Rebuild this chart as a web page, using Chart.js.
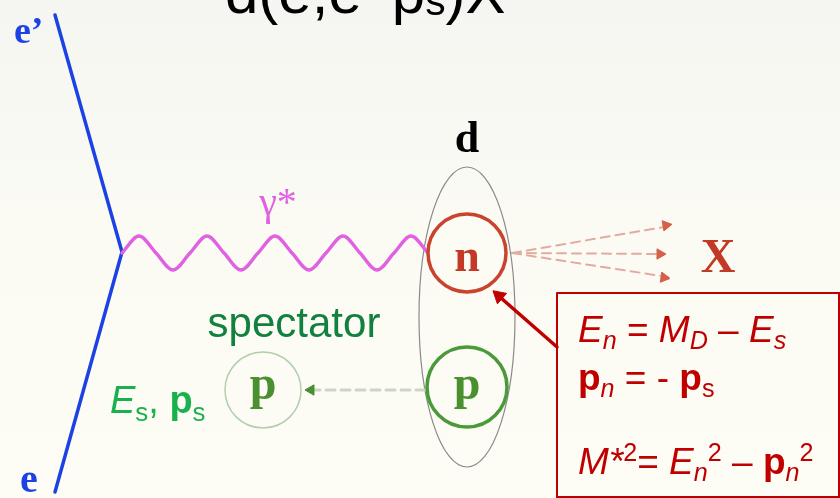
<!DOCTYPE html>
<html>
<head>
<meta charset="utf-8">
<script src="https://cdn.jsdelivr.net/npm/chart.js@4.4.0/dist/chart.umd.min.js"></script>
<style>
    html, body { margin: 0; padding: 0; background: #fbfbf4; }
    #wrap { width: 840px; height: 498px; }
</style>
</head>
<body>
<div id="wrap"><canvas id="myChart" width="840" height="498"></canvas></div>
<script>
// diagram values, picture units (x right, y down)
const electronX = [55, 122, 55];
const electronY = [15, 252, 492];

// virtual photon: crossings, crests and troughs
const photonX = [122, 139, 156, 173, 190, 207, 224, 241, 258, 275, 292, 309, 326, 343, 360, 377, 394, 411, 428];
const photonY = [253, 236, 253, 270, 253, 236, 253, 270, 253, 236, 253, 270, 253, 236, 253, 270, 253, 236, 253];

// deuteron bag: centre and half-axes
const deuteronX = 467, deuteronY = 317, deuteronRx = 48, deuteronRy = 150;

// nucleons: neutron, bound proton, spectator proton
const nucleonX = [467, 467, 263];
const nucleonY = [253, 387, 390];
const nucleonR = [39, 40, 38];

// hadronic final state X (three jets)
const jetFromX = 512, jetFromY = 253;
const jetTipX = [670, 664, 668];
const jetTipY = [226, 254, 277];

// spectator recoil line
const recoilX = [425, 312];
const recoilY = [390, 390];

// formula box and its pointer
const boxX = [557, 839, 839, 557, 557];
const boxY = [293, 293, 497, 497, 293];
const pointerX = [557, 501];
const pointerY = [347, 298];

const pts = (xs, ys) => xs.map((x, i) => ({ x: x, y: ys[i] }));
const bg = '#fcfcf5';

// rotation (deg) for a triangle point so it faces along a segment
function heading(x0, y0, x1, y1) {
    return Math.atan2(x1 - x0, -(y1 - y0)) * 180 / Math.PI;
}

function lineSet(data, color, width, dash, order) {
    return {
        data: data, showLine: true, pointRadius: 0, borderColor: color,
        borderWidth: width, borderDash: dash || [], fill: false, clip: false,
        order: order, borderCapStyle: 'round'
    };
}

function circleSet(i, color, width, order) {
    return {
        data: [{ x: nucleonX[i], y: nucleonY[i] }], pointRadius: nucleonR[i],
        pointStyle: 'circle', pointBorderColor: color, pointBorderWidth: width,
        pointBackgroundColor: bg, clip: false, order: order
    };
}

function arrowHead(x, y, rot, color, r, order) {
    return {
        data: [{ x: x, y: y }], pointStyle: 'triangle', pointRadius: r, rotation: rot,
        pointBackgroundColor: color, pointBorderColor: color, pointBorderWidth: 1,
        clip: false, order: order
    };
}

const datasets = [];
datasets.push(lineSet(pts(electronX, electronY), '#1c42e4', 3.5, null, 10));
datasets.push(Object.assign(lineSet(pts(photonX, photonY), '#e062e2', 3.5, null, 9),
    { cubicInterpolationMode: 'monotone' }));
jetTipX.forEach((tx, i) => {
    datasets.push(lineSet([{ x: jetFromX, y: jetFromY }, { x: tx, y: jetTipY[i] }], '#e3aba0', 2, [9, 6], 8));
    datasets.push(arrowHead(tx - 4, jetTipY[i] + (jetTipY[i] - jetFromY) / 40, heading(jetFromX, jetFromY, tx, jetTipY[i]), '#d4604c', 6, 3));
});
datasets.push(lineSet(pts(recoilX, recoilY), '#cbd6c3', 3, [9, 6], 8));
datasets.push(arrowHead(recoilX[1] - 1, recoilY[1], -90, '#4a8f38', 6, 3));
datasets.push(circleSet(0, '#c9442f', 3.5, 5));
datasets.push(circleSet(1, '#4a9a3a', 3.5, 5));
datasets.push(circleSet(2, '#b3ceab', 1.5, 5));
datasets.push(lineSet(pts(boxX, boxY), '#c00000', 2, null, 6));
datasets.push(lineSet(pts(pointerX, pointerY), '#c00000', 3.5, null, 4));
datasets.push(arrowHead(pointerX[1] - 2, pointerY[1] - 2, heading(pointerX[0], pointerY[0], pointerX[1], pointerY[1]), '#c00000', 8, 2));

const backgroundPlugin = {
    id: 'paper',
    beforeDraw(chart) {
        const c = chart.ctx;
        const g = c.createLinearGradient(0, 0, 0, chart.height);
        g.addColorStop(0, '#f5f6f1');
        g.addColorStop(0.45, '#fbfbf4');
        g.addColorStop(1, '#fdfdf6');
        c.save();
        c.fillStyle = g;
        c.fillRect(0, 0, chart.width, chart.height);
        c.restore();
    }
};

const deuteronPlugin = {
    id: 'deuteron',
    beforeDatasetsDraw(chart) {
        const xs = chart.scales.x, ys = chart.scales.y, c = chart.ctx;
        const cx = xs.getPixelForValue(deuteronX), cy = ys.getPixelForValue(deuteronY);
        const rx = Math.abs(xs.getPixelForValue(deuteronX + deuteronRx) - cx);
        const ry = Math.abs(ys.getPixelForValue(deuteronY + deuteronRy) - cy);
        c.save();
        c.strokeStyle = '#8a8a88';
        c.lineWidth = 1.2;
        c.beginPath();
        c.ellipse(cx, cy, rx, ry, 0, 0, Math.PI * 2);
        c.stroke();
        c.restore();
    }
};

function drawRich(c, x, y, parts, size, family, color) {
    let cx = x;
    c.fillStyle = color;
    c.textAlign = 'left';
    c.textBaseline = 'alphabetic';
    parts.forEach(p => {
        const s = (p.sub || p.sup || p.small) ? size * 0.68 : size;
        const dy = p.sub ? size * 0.2 : p.sup ? -size * 0.36 : p.small ? size * 0.04 : 0;
        c.font = (p.i ? 'italic ' : '') + (p.b ? 'bold ' : '') + s + 'px ' + family;
        c.fillText(p.t, cx, y + dy);
        cx += c.measureText(p.t).width;
    });
}

const labelPlugin = {
    id: 'labels',
    afterDatasetsDraw(chart) {
        const xs = chart.scales.x, ys = chart.scales.y, c = chart.ctx;
        const px = v => xs.getPixelForValue(v), py = v => ys.getPixelForValue(v);
        const serif = '"Liberation Serif", "Times New Roman", serif';
        const sans = '"Liberation Sans", Arial, sans-serif';
        c.save();

        // title, cut by the top edge
        drawRich(c, px(225), py(13), [{ t: 'd(e,e\u2019 p' }, { t: 's', small: true }, { t: ')X' }], 60, sans, '#000000');

        drawRich(c, px(14), py(43), [{ t: 'e\u2019', b: true }], 38, serif, '#1c42e4');
        drawRich(c, px(20), py(492), [{ t: 'e', b: true }], 40, serif, '#1c42e4');

        c.textAlign = 'center';
        c.fillStyle = '#e062e2';
        c.font = '40px ' + serif;
        c.fillText('\u03b3*', px(278), py(215));

        c.fillStyle = '#000000';
        c.font = 'bold 44px ' + serif;
        c.fillText('d', px(467), py(152));

        c.fillStyle = '#c23a26';
        c.font = 'bold 46px ' + serif;
        c.fillText('n', px(nucleonX[0]), py(271));
        c.font = 'bold 48px ' + serif;
        c.fillText('X', px(718), py(272));

        c.fillStyle = '#4a8f30';
        c.font = 'bold 48px ' + serif;
        c.fillText('p', px(nucleonX[1]), py(399));
        c.fillText('p', px(nucleonX[2]), py(399));

        c.fillStyle = '#12803f';
        c.font = '42px ' + sans;
        c.fillText('spectator', px(294), py(337));

        drawRich(c, px(110), py(413), [{ t: 'E', i: true }, { t: 's', sub: true }, { t: ', ' },
            { t: 'p', b: true }, { t: 's', sub: true }], 38, sans, '#19b04e');

        const red = '#c00000';
        drawRich(c, px(578), py(342), [{ t: 'E', i: true }, { t: 'n', i: true, sub: true }, { t: ' = ' },
            { t: 'M', i: true }, { t: 'D', i: true, sub: true }, { t: ' \u2013 ' },
            { t: 'E', i: true }, { t: 's', i: true, sub: true }], 37, sans, red);
        drawRich(c, px(578), py(390), [{ t: 'p', b: true }, { t: 'n', i: true, sub: true }, { t: ' = - ' },
            { t: 'p', b: true }, { t: 's', sub: true }], 37, sans, red);
        drawRich(c, px(578), py(474), [{ t: 'M*', i: true }, { t: '2', sup: true }, { t: '= ' },
            { t: 'E', i: true }, { t: 'n', i: true, sub: true }, { t: '2', sup: true }, { t: ' \u2013 ' },
            { t: 'p', b: true }, { t: 'n', i: true, sub: true }, { t: '2', sup: true }], 37, sans, red);

        c.restore();
    }
};

const ctx = document.getElementById('myChart').getContext('2d');
const diagram = new Chart(ctx, {
    type: 'scatter',
    data: { datasets: datasets },
    options: {
        responsive: false,
        animation: false,
        layout: { padding: 0, autoPadding: false },
        plugins: { legend: { display: false }, tooltip: { enabled: false } },
        scales: {
            x: { type: 'linear', display: false, min: 0, max: 840 },
            y: { type: 'linear', display: false, min: 0, max: 498, reverse: true }
        }
    },
    plugins: [backgroundPlugin, deuteronPlugin, labelPlugin]
});
</script>
</body>
</html>
